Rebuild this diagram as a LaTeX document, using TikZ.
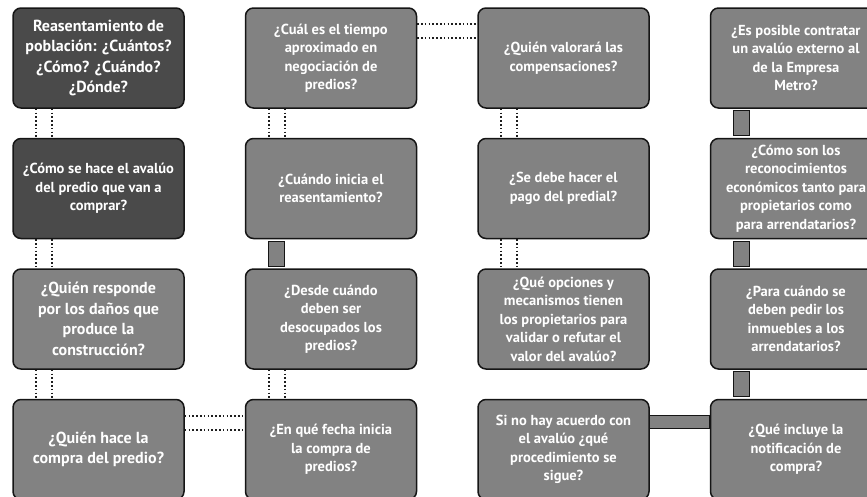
\documentclass[tikz,border=0pt]{standalone}
\usepackage{fontspec}
\setsansfont{PT Sans}
\usetikzlibrary{positioning}
\definecolor{qdark}{HTML}{4A4A4A}
\definecolor{qmid}{HTML}{828282}
\definecolor{qedge}{HTML}{151515}
\definecolor{dotc}{HTML}{1E1E1E}

\begin{document}
\begin{tikzpicture}[
  q/.style={rounded corners=8pt, draw=qedge, line width=1.5pt, fill=qmid, text=white,
            minimum width=171pt, minimum height=100pt, inner sep=2pt, align=center,
            font=\sffamily\bfseries\fontsize{14.5}{18.5}\selectfont},
  qd/.style={q, fill=qdark},
  big/.style={font=\sffamily\bfseries\fontsize{16}{20.5}\selectfont},
  dl/.style={draw=dotc, line width=1.6pt, dash pattern=on 1.6pt off 2.2pt},
  bar/.style={draw=qedge, line width=1.2pt, fill=qmid},
]
\useasboundingbox (0,0) rectangle (867pt,-496pt);
% column 1
\node[qd, big] (a1) at (98.5pt,-58pt) {Reasentamiento de\\población: ¿Cuántos?\\¿Cómo? ¿Cuándo?\\¿Dónde?};
\node[qd] (a2) [below=29pt of a1] {¿Cómo se hace el avalúo\\del predio que van a\\comprar?};
\node[q, big] (a3) [below=29pt of a2] {¿Quién responde\\por los daños que\\produce la\\construcción?};
\node[q, big] (a4) [below=29pt of a3] {¿Quién hace la\\compra del predio?};
% column 2
\node[q] (b1) [right=60pt of a1] {¿Cuál es el tiempo\\aproximado en\\negociación de\\predios?};
\node[q] (b2) [below=29pt of b1] {¿Cuándo inicia el\\reasentamiento?};
\node[q] (b3) [below=29pt of b2] {¿Desde cuándo\\deben ser\\desocupados los\\predios?};
\node[q] (b4) [below=29pt of b3] {¿En qué fecha inicia\\la compra de\\predios?};
% column 3
\node[q] (c1) [right=60pt of b1] {¿Quién valorará las\\compensaciones?};
\node[q] (c2) [below=29pt of c1] {¿Se debe hacer el\\pago del predial?};
\node[q] (c3) [below=29pt of c2] {¿Qué opciones y\\mecanismos tienen\\los propietarios para\\validar o refutar el\\valor del avalúo?};
\node[q] (c4) [below=29pt of c3] {Si no hay acuerdo con\\el avalúo ¿qué\\procedimiento se\\sigue?};
% column 4 (cut by the right edge)
\node[q] (d1) [right=60pt of c1] {¿Es posible contratar\\un avalúo externo al\\de la Empresa\\Metro?};
\node[q] (d2) [below=29pt of d1] {¿Cómo son los\\reconocimientos\\económicos tanto para\\propietarios como\\para arrendatarios?};
\node[q] (d3) [below=29pt of d2] {¿Para cuándo se\\deben pedir los\\inmuebles a los\\arrendatarios?};
\node[q] (d4) [below=29pt of d3] {¿Qué incluye la\\notificación de\\compra?};

% double dotted links
\foreach \u/\v in {a1/a2, a2/a3, a3/a4, b1/b2, b3/b4, c1/c2, c2/c3}{
  \foreach \s in {24pt,40pt}
    \draw[dl] ([xshift=\s]\u.south west) -- ([xshift=\s]\v.north west);
}
\foreach \u/\v in {a4/b4, b1/c1}{
  \foreach \s in {-17pt,-31pt}
    \draw[dl] ([yshift=\s]\u.north east) -- ([yshift=\s]\v.north west);
}
% solid bars
\foreach \u/\v in {b2/b3, d1/d2, d2/d3, d3/d4}
  \draw[bar] ([xshift=24pt,yshift=-2pt]\u.south west) rectangle ([xshift=40pt,yshift=2pt]\v.north west);
\draw[bar] ([yshift=-17pt]c4.north east) rectangle ([yshift=-30pt]d4.north west);
\end{tikzpicture}
\end{document}
